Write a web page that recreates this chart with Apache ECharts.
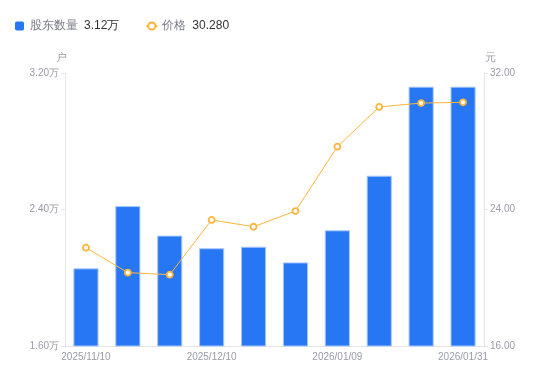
<!DOCTYPE html>
<html><head><meta charset="utf-8">
<script src="https://cdn.jsdelivr.net/npm/echarts@6/dist/echarts.min.js"></script>
<style>html,body{margin:0;padding:0;background:#fff}#c{width:550px;height:381px}</style>
</head><body><div id="c"></div>
<script>
var categories = ['2025/11/10','2025/11/20','2025/11/30','2025/12/10','2025/12/20','2025/12/31','2026/01/09','2026/01/20','2026/01/26','2026/01/31'];
var holders = [2.055, 2.42, 2.247, 2.173, 2.182, 2.09, 2.278, 2.598, 3.12, 3.12];
var prices = [21.76, 20.30, 20.18, 23.39, 22.99, 23.91, 27.68, 30.01, 30.24, 30.28];
var leftTicks = [1.6, 2.4, 3.2];
var rightTicks = [16, 24, 32];

var chart = echarts.init(document.getElementById('c'));
var gray = '#9a9aa6';
chart.setOption({
  animation: false,
  legend: {
    left: 10, top: 15, itemWidth: 11, itemHeight: 9, itemGap: 26,
    textStyle: { rich: { n: { color: '#7a7a86', fontSize: 12 }, v: { color: '#333', fontSize: 12, padding: [0,0,0,6] } } },
    formatter: function (name) {
      if (name === '股东数量') return '{n|' + name + '}{v|' + holders[holders.length-1].toFixed(2) + '万}';
      return '{n|' + name + '}{v|' + prices[prices.length-1].toFixed(3) + '}';
    },
    data: [{ name: '股东数量', icon: 'path://M2,0H8Q10,0 10,2V8Q10,10 8,10H2Q0,10 0,8V2Q0,0 2,0Z', itemStyle: { borderWidth: 0 } }, { name: '价格' }]
  },
  grid: { left: 65, right: 66, top: 73, bottom: 35 },
  xAxis: {
    type: 'category', data: categories,
    axisLine: { lineStyle: { color: '#e4e4e8' } },
    axisTick: { show: false },
    axisLabel: { color: gray, fontSize: 10, interval: 2, margin: 6 }
  },
  yAxis: [{
    type: 'value', min: leftTicks[0], max: leftTicks[2], interval: 0.8, name: '户',
    nameTextStyle: { color: gray, fontSize: 11, padding: [0, 8, 0, 0] }, nameGap: 10,
    axisLine: { show: true, lineStyle: { color: '#e4e4e8' } },
    axisTick: { show: true, length: 4, lineStyle: { color: '#e4e4e8' } },
    splitLine: { show: false },
    axisLabel: { color: gray, fontSize: 10, margin: 6, formatter: function (v) { return v.toFixed(2) + '万'; } }
  }, {
    type: 'value', min: rightTicks[0], max: rightTicks[2], interval: 8, name: '元',
    nameTextStyle: { color: gray, fontSize: 11, padding: [0, 0, 0, 12] }, nameGap: 10,
    axisLine: { show: true, lineStyle: { color: '#e4e4e8' } },
    axisTick: { show: true, length: 4, lineStyle: { color: '#e4e4e8' } },
    splitLine: { show: false },
    axisLabel: { color: gray, fontSize: 10, margin: 6, formatter: function (v) { return v.toFixed(2); } }
  }],
  series: [{
    name: '股东数量', type: 'bar', data: holders, barWidth: '60%', yAxisIndex: 0,
    itemStyle: { color: '#2777f5', borderColor: '#a8c8fa', borderWidth: 1 }
  }, {
    name: '价格', type: 'line', data: prices, yAxisIndex: 1,
    symbol: 'circle', symbolSize: 6,
    lineStyle: { color: '#fbb53a', width: 1 },
    itemStyle: { color: '#fff', borderColor: '#fbb53a', borderWidth: 1.8 }
  }]
});
</script></body></html>
